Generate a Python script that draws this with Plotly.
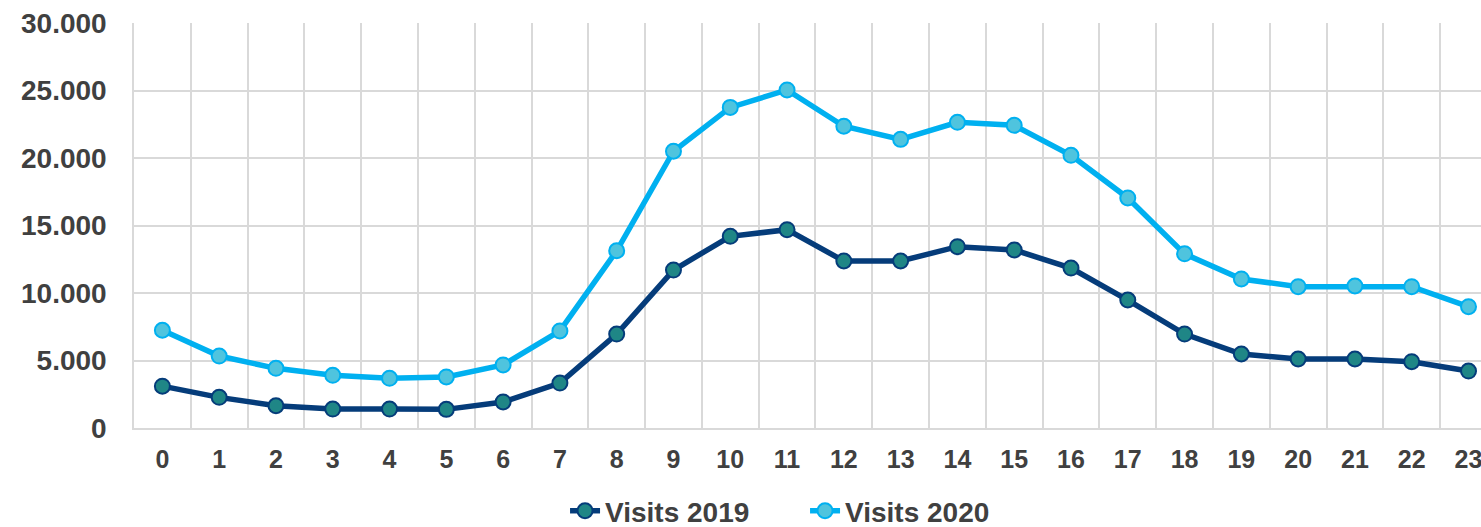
import plotly.graph_objects as go

hours = [str(h) for h in range(24)]
visits_2019 = [3100, 2270, 1650, 1400, 1400, 1380, 1930, 3330, 6960, 11700, 14200, 14690,
               12370, 12370, 13430, 13190, 11850, 9480, 6960, 5480, 5110, 5110, 4910, 4220]
visits_2020 = [7240, 5330, 4420, 3900, 3680, 3780, 4670, 7190, 13130, 20500, 23750, 25040,
               22350, 21380, 22640, 22420, 20200, 17040, 12900, 11040, 10470, 10520, 10470, 8990]

TXT = "#404040"
GRID = "#D9D9D9"
FONT = "Liberation Sans, Arial, sans-serif"

fig = go.Figure()
fig.add_trace(go.Scatter(
    x=hours, y=visits_2019, name="Visits 2019", mode="lines+markers",
    line=dict(color="#053C7A", width=5.5),
    marker=dict(size=15, color="#1F8686", line=dict(color="#053C7A", width=2)),
))
fig.add_trace(go.Scatter(
    x=hours, y=visits_2020, name="Visits 2020", mode="lines+markers",
    line=dict(color="#00B0F0", width=5.5),
    marker=dict(size=15, color="#4FC4DE", line=dict(color="#00B0F0", width=2)),
))

fig.update_layout(
    width=1481, height=527,
    margin=dict(l=134, r=0, t=23, b=99, autoexpand=False),
    paper_bgcolor="white", plot_bgcolor="white",
    separators=",.",
    showlegend=True,
    legend=dict(orientation="h", x=0.32, xanchor="left", y=-0.205, yanchor="middle",
                font=dict(family=FONT, size=28, color=TXT, weight="bold"),
                entrywidth=195, entrywidthmode="pixels",
                itemwidth=30, tracegroupgap=0),
    font=dict(family=FONT, color=TXT),
)
fig.update_xaxes(
    type="category", range=[-0.5, 23.22], tickson="boundaries",
    showgrid=True, gridcolor=GRID, gridwidth=1.5,
    showline=True, linecolor=GRID, linewidth=1.5,
    ticks="", ticklabelstandoff=8,
    tickfont=dict(family=FONT, size=25, color=TXT, weight="bold"),
    zeroline=False, automargin=False,
)
fig.update_yaxes(
    range=[0, 30000], tickvals=[0, 5000, 10000, 15000, 20000, 25000, 30000],
    tickformat=",d",
    showgrid=True, gridcolor=GRID, gridwidth=1.5,
    showline=True, linecolor=GRID, linewidth=1.5,
    ticks="outside", ticklen=20, tickcolor="rgba(0,0,0,0)",
    tickfont=dict(family=FONT, size=28, color=TXT, weight="bold"),
    zeroline=False, automargin=False,
)

fig.write_html("out.html", config={"displayModeBar": False},
               post_script="document.body.style.margin='0';document.body.style.overflow='hidden';")
